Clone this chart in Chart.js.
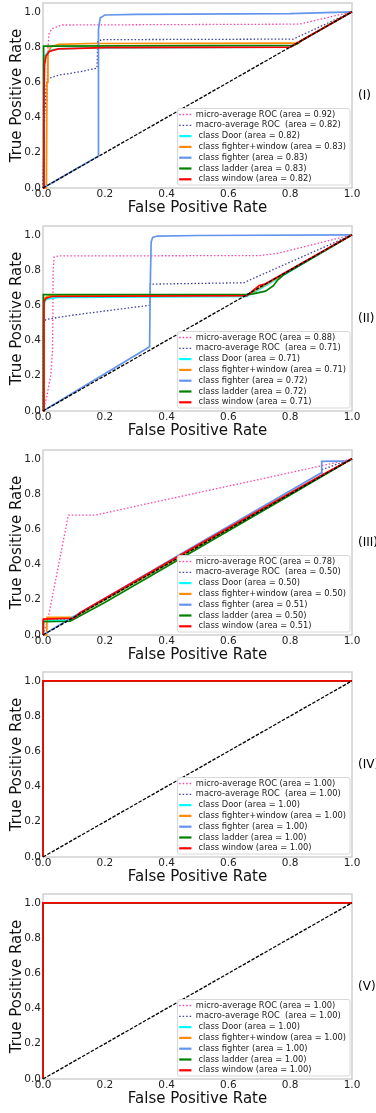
<!DOCTYPE html>
<html>
<head>
<meta charset="utf-8">
<script src="https://cdn.jsdelivr.net/npm/chart.js@4.4.1/dist/chart.umd.min.js"></script>
<style>
    html, body { margin: 0; padding: 0; background: #fff; overflow: hidden; }
    .panel { position: absolute; left: 0; width: 376px; height: 223px; }
</style>
</head>
<body>
<div class="panel" style="top:0px"><canvas id="roc1" width="376" height="223"></canvas></div>
<div class="panel" style="top:223px"><canvas id="roc2" width="376" height="223"></canvas></div>
<div class="panel" style="top:447px"><canvas id="roc3" width="376" height="223"></canvas></div>
<div class="panel" style="top:669px"><canvas id="roc4" width="376" height="223"></canvas></div>
<div class="panel" style="top:891px"><canvas id="roc5" width="376" height="223"></canvas></div>
<script>
// ticks, same on both axes
var tickValues = [0, 0.2, 0.4, 0.6, 0.8, 1.0];
var tickLabels = ['0.0', '0.2', '0.4', '0.6', '0.8', '1.0'];

var panelTags = ['(I)', '(II)', '(III)', '(IV)', '(V)'];
var curveNames = ['micro-average ROC', 'macro-average ROC ', ' class Door', ' class fighter+window',
                  ' class fighter', ' class ladder', ' class window'];

// area under curve, same order as curveNames
var area1 = [0.92, 0.82, 0.82, 0.83, 0.83, 0.83, 0.82];
var area2 = [0.88, 0.71, 0.71, 0.71, 0.72, 0.72, 0.71];
var area3 = [0.78, 0.50, 0.50, 0.50, 0.51, 0.50, 0.51];
var area4 = [1.00, 1.00, 1.00, 1.00, 1.00, 1.00, 1.00];
var area5 = [1.00, 1.00, 1.00, 1.00, 1.00, 1.00, 1.00];

// curves as [fpr, tpr]
// (I)
var micro1 = [[0,0],[0.002,0.2],[0.004,0.45],[0.013,0.5],[0.016,0.8],[0.02,0.88],[0.03,0.905],[0.06,0.925],[0.83,0.93],[1,1]];
var macro1 = [[0,0],[0.004,0.35],[0.01,0.58],[0.015,0.62],[0.05,0.64],[0.12,0.66],[0.175,0.68],[0.177,0.83],[0.19,0.842],[0.81,0.845],[1,1]];
var door1 = [[0,0],[0.002,0.7],[0.006,0.75],[0.02,0.78],[0.05,0.79],[0.15,0.795],[0.8,0.8],[1,1]];
var fw1 = [[0,0],[0.011,0],[0.013,0.6],[0.016,0.76],[0.025,0.8],[0.05,0.815],[0.15,0.82],[0.82,0.822],[1,1]];
var fighter1 = [[0,0],[0.178,0.18],[0.179,0.5],[0.18,0.9],[0.185,0.965],[0.2,0.982],[0.3,0.986],[0.8,0.99],[1,1]];
var ladder1 = [[0,0],[0.002,0.805],[0.81,0.81],[0.825,0.82],[0.835,0.835],[1,1]];
var window1 = [[0,0],[0.003,0.5],[0.005,0.7],[0.01,0.75],[0.02,0.775],[0.05,0.79],[0.2,0.797],[0.8,0.8],[1,1]];
// (II)
var micro2 = [[0,0],[0.012,0.08],[0.025,0.2],[0.031,0.35],[0.033,0.8],[0.036,0.875],[0.05,0.88],[0.7,0.882],[0.76,0.895],[1,1]];
var macro2 = [[0,0],[0.001,0.5],[0.01,0.52],[0.1,0.545],[0.345,0.6],[0.347,0.72],[0.65,0.728],[0.69,0.76],[1,1]];
var door2 = [[0,0],[0.002,0.6],[0.01,0.635],[0.05,0.645],[0.66,0.65],[0.68,0.67],[1,1]];
var fw2 = [[0,0],[0.003,0.64],[0.02,0.655],[0.66,0.656],[1,1]];
var fighter2 = [[0,0],[0.345,0.365],[0.347,0.7],[0.35,0.96],[0.355,0.985],[0.37,0.993],[0.5,0.996],[1,1]];
var ladder2 = [[0,0],[0.001,0.66],[0.66,0.662],[0.68,0.665],[0.72,0.68],[0.745,0.71],[0.76,0.745],[0.78,0.775],[1,1]];
var window2 = [[0,0],[0.003,0.62],[0.01,0.64],[0.03,0.65],[0.66,0.655],[0.68,0.685],[0.7,0.712],[0.72,0.722],[1,1]];
// (III)
var micro3 = [[0,0],[0.005,0.03],[0.016,0.09],[0.082,0.68],[0.168,0.68],[0.9,0.96],[1,1]];
var macro3 = [[0,0],[0.002,0.085],[0.085,0.09],[0.5,0.505],[0.9,0.905],[0.905,0.94],[1,1]];
var door3 = [[0,0],[0.001,0.08],[0.08,0.085],[0.1,0.1],[1,1]];
var fw3 = [[0,0],[0.012,0],[0.013,0.1],[0.1,0.1],[1,1]];
var fighter3 = [[0,0],[0.08,0.085],[0.5,0.515],[0.9,0.92],[0.902,0.985],[0.99,0.988],[1,1]];
var ladder3 = [[0,0],[0.001,0.076],[0.088,0.078],[0.2,0.185],[0.5,0.49],[0.8,0.795],[1,1]];
var window3 = [[0,0],[0.001,0.09],[0.1,0.095],[0.12,0.127],[0.5,0.51],[0.9,0.905],[1,1]];
// (IV)
var micro4 = [[0,0],[0.001,0.99],[0.004,1],[1,1]];
var macro4 = [[0,0],[0,1],[1,1]];
var door4 = [[0,0],[0,1],[1,1]];
var fw4 = [[0,0],[0,1],[1,1]];
var fighter4 = [[0,0],[0,1],[1,1]];
var ladder4 = [[0,0],[0,1],[1,1]];
var window4 = [[0,0],[0,1],[1,1]];
// (V)
var micro5 = [[0,0],[0.001,0.99],[0.004,1],[1,1]];
var macro5 = [[0,0],[0,1],[1,1]];
var door5 = [[0,0],[0,1],[1,1]];
var fw5 = [[0,0],[0,1],[1,1]];
var fighter5 = [[0,0],[0,1],[1,1]];
var ladder5 = [[0,0],[0,1],[1,1]];
var window5 = [[0,0],[0,1],[1,1]];

var chance = [[0,0],[1,1]];

var curveStyles = [
    {color: 'rgba(255,20,147,0.8)', dash: [1.5, 2], width: 1.3},
    {color: 'rgba(0,0,128,0.75)', dash: [1.5, 2], width: 1.3},
    {color: 'aqua', dash: [], width: 1.7},
    {color: 'darkorange', dash: [], width: 1.7},
    {color: 'cornflowerblue', dash: [], width: 1.7},
    {color: 'green', dash: [], width: 1.7},
    {color: 'red', dash: [], width: 1.7}
];

var FONT = '"DejaVu Sans", sans-serif';

// grey box round the axes
var framePlugin = {
    id: 'frame',
    beforeDatasetsDraw: function (chart) {
        var a = chart.chartArea, ctx = chart.ctx;
        ctx.save();
        ctx.strokeStyle = '#d0d0d0';
        ctx.lineWidth = 1.5;
        ctx.strokeRect(a.left, a.top, a.right - a.left, a.bottom - a.top);
        ctx.restore();
    }
};

// legend inside the lower right corner
var rocLegend = {
    id: 'rocLegend',
    afterDatasetsDraw: function (chart) {
        var ctx = chart.ctx, a = chart.chartArea;
        var items = chart.data.datasets.filter(function (d) { return !d.isChance; });
        ctx.save();
        ctx.font = '8.3px ' + FONT;
        var maxW = 0;
        items.forEach(function (d) { maxW = Math.max(maxW, ctx.measureText(d.label).width); });
        var rowH = 10.8;
        var w = 18.4 + maxW + 4, h = rowH * (items.length - 1) + 11.7;
        var right = a.right - 2, bottom = a.bottom - 3;
        var left = right - w, top = bottom - h;
        ctx.beginPath();
        ctx.roundRect(left, top, w, h, 2);
        ctx.fillStyle = 'rgba(255,255,255,0.9)';
        ctx.fill();
        ctx.strokeStyle = '#d8d8d8';
        ctx.lineWidth = 1;
        ctx.stroke();
        items.forEach(function (d, i) {
            var y = top + 6 + i * rowH;
            ctx.beginPath();
            ctx.setLineDash(d.borderDash);
            ctx.strokeStyle = d.borderColor;
            ctx.lineWidth = d.borderDash.length ? d.borderWidth : 2.2;
            ctx.moveTo(left + 1.7, y);
            ctx.lineTo(left + 14, y);
            ctx.stroke();
            ctx.setLineDash([]);
            ctx.fillStyle = '#222';
            ctx.textBaseline = 'middle';
            ctx.fillText(d.label, left + 18.4, y);
        });
        ctx.restore();
    }
};

// panel tag to the right of the axes
var tagPlugin = {
    id: 'tag',
    afterDraw: function (chart) {
        var ctx = chart.ctx, a = chart.chartArea;
        ctx.save();
        ctx.font = '12px ' + FONT;
        ctx.fillStyle = '#000';
        ctx.textBaseline = 'middle';
        ctx.fillText(chart.options.plugins.tag.text, a.right + 6, (a.top + a.bottom) / 2);
        ctx.restore();
    }
};

function axis(max, title, isX) {
    return {
        type: 'linear',
        min: 0,
        max: max,
        grid: {display: false, drawTicks: false, tickLength: 0},
        border: {display: false},
        afterBuildTicks: function (s) {
            s.ticks = tickValues.map(function (v) { return {value: v}; });
        },
        afterFit: function (s) {
            if (isX) { s.height = 35; s.paddingLeft = 0; s.paddingRight = 0; }
            else { s.width = 43; s.paddingTop = 0; s.paddingBottom = 0; }
        },
        ticks: {
            padding: isX ? 0 : 2,
            autoSkip: false,
            maxRotation: 0,
            color: '#222',
            font: {family: FONT, size: 10.5},
            callback: function (v, i) { return tickLabels[i]; }
        },
        title: {
            display: true,
            text: title,
            color: '#111',
            font: {family: FONT, size: 15},
            padding: isX ? {top: 0, bottom: 6} : {top: 8, bottom: 0}
        }
    };
}

function drawRoc(id, tag, curves, areas) {
    var datasets = [];
    curves.forEach(function (pts, i) {
        var st = curveStyles[i];
        datasets.push({
            label: curveNames[i] + ' (area = ' + areas[i].toFixed(2) + ')',
            data: pts.map(function (p) { return {x: p[0], y: p[1]}; }),
            borderColor: st.color,
            borderWidth: st.width,
            borderDash: st.dash,
            showLine: true,
            clip: false,
            order: 10 - i
        });
    });
    datasets.push({
        label: '',
        isChance: true,
        data: chance.map(function (p) { return {x: p[0], y: p[1]}; }),
        borderColor: '#000',
        borderWidth: 1.3,
        borderDash: [3.5, 1.5],
        showLine: true,
        clip: false,
        order: 0
    });

    return new Chart(document.getElementById(id), {
        type: 'scatter',
        data: {datasets: datasets},
        options: {
            responsive: false,
            animation: false,
            elements: {point: {radius: 0, hoverRadius: 0}, line: {tension: 0}},
            layout: {padding: {top: 3, right: 24, bottom: 0, left: 0}},
            plugins: {
                legend: {display: false},
                tooltip: {enabled: false},
                tag: {text: tag}
            },
            scales: {
                x: axis(1, 'False Positive Rate', true),
                y: axis(1.05, 'True Positive Rate', false)
            }
        },
        plugins: [framePlugin, rocLegend, tagPlugin]
    });
}

drawRoc('roc1', panelTags[0], [micro1, macro1, door1, fw1, fighter1, ladder1, window1], area1);
drawRoc('roc2', panelTags[1], [micro2, macro2, door2, fw2, fighter2, ladder2, window2], area2);
drawRoc('roc3', panelTags[2], [micro3, macro3, door3, fw3, fighter3, ladder3, window3], area3);
drawRoc('roc4', panelTags[3], [micro4, macro4, door4, fw4, fighter4, ladder4, window4], area4);
drawRoc('roc5', panelTags[4], [micro5, macro5, door5, fw5, fighter5, ladder5, window5], area5);
</script>
</body>
</html>
